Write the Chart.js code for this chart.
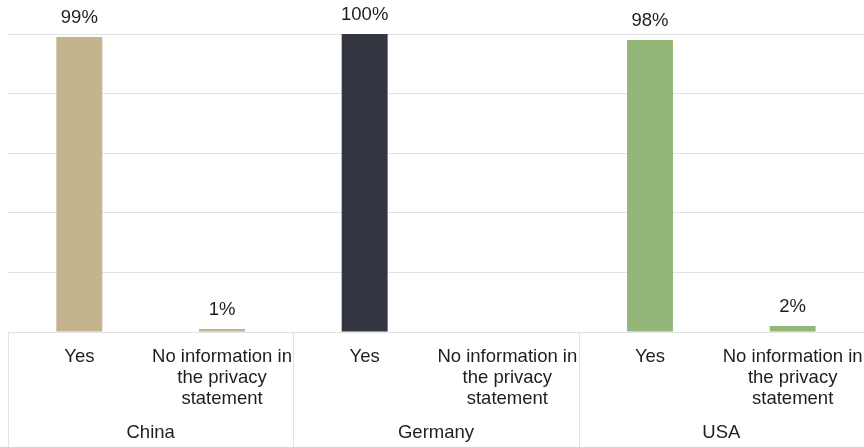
<!DOCTYPE html>
<html>
<head>
<meta charset="utf-8">
<script src="https://cdn.jsdelivr.net/npm/chart.js@4/dist/chart.umd.min.js"></script>
<style>
  html, body { margin: 0; padding: 0; background: #fff; }
  #wrap { width: 864px; height: 447px; }
</style>
</head>
<body>
<div id="wrap"><canvas id="c"></canvas></div>
<script>
// Answer categories repeated per country, with country groups underneath
const answers = ['Yes', ['No information in', 'the privacy', 'statement']];
const countries = ['China', 'Germany', 'USA'];
const categories = ['China Yes', 'China No info', 'Germany Yes', 'Germany No info', 'USA Yes', 'USA No info'];
// Share of responses in percent
const shares = [99, 1, 100, 0, 98, 2];
const countryColors = ['#c4b48e', '#333540', '#93b779'];

const FONT = "'Liberation Sans', Arial, sans-serif";
const FONT_SIZE = 18.5;
const TEXT = '#1e1e1e';
const GRID = '#e2e2e2';

const barColors = shares.map((v, i) => countryColors[Math.floor(i / 2)]);
const tickLabels = categories.map((c, i) => answers[i % 2]);

// Value labels above each bar (skipped for empty bars)
const valueLabels = {
  id: 'valueLabels',
  afterDatasetsDraw(chart) {
    const ctx = chart.ctx;
    const meta = chart.getDatasetMeta(0);
    ctx.save();
    ctx.font = FONT_SIZE + 'px ' + FONT;
    ctx.fillStyle = TEXT;
    ctx.textAlign = 'center';
    ctx.textBaseline = 'middle';
    meta.data.forEach((bar, i) => {
      const v = shares[i];
      if (!v) return;
      ctx.fillText(v + '%', bar.x, bar.y - 19);
    });
    ctx.restore();
  }
};

// Vertical separators between country groups below the plot
const groupSeparators = {
  id: 'groupSeparators',
  afterDraw(chart) {
    const x = chart.scales.x;
    const ctx = chart.ctx;
    const half = (x.getPixelForValue(1) - x.getPixelForValue(0)) / 2;
    ctx.save();
    ctx.strokeStyle = GRID;
    ctx.lineWidth = 1;
    for (let g = 0; g <= countries.length; g++) {
      const idx = g * 2;
      const px = Math.round(x.getPixelForValue(idx) - half) + 0.5;
      ctx.beginPath();
      ctx.moveTo(px, chart.chartArea.bottom);
      ctx.lineTo(px, chart.height);
      ctx.stroke();
    }
    ctx.restore();
  }
};

// Fixed band heights for the two label rows, no side overhang
function fitBand(height) {
  return (scale) => {
    scale.height = height;
    scale.paddingLeft = 0;
    scale.paddingRight = 0;
  };
}

const tickStyle = {
  color: TEXT,
  font: { family: FONT, size: FONT_SIZE, lineHeight: 1.15 },
  padding: 14,
  maxRotation: 0,
  minRotation: 0,
  autoSkip: false
};

new Chart(document.getElementById('c'), {
  type: 'bar',
  data: {
    labels: tickLabels,
    datasets: [{
      data: shares,
      backgroundColor: barColors,
      borderWidth: 0,
      categoryPercentage: 1,
      barPercentage: 0.322
    }]
  },
  options: {
    responsive: true,
    maintainAspectRatio: false,
    animation: false,
    layout: { padding: { left: 8, right: 0, top: 34, bottom: 2 } },
    plugins: { legend: { display: false }, tooltip: { enabled: false } },
    scales: {
      y: {
        min: 0, max: 100,
        ticks: { display: false, stepSize: 20 },
        grid: { color: GRID, drawTicks: false, tickLength: 0 },
        border: { display: false },
        afterFit: (scale) => { scale.width = 0; }
      },
      x: {
        position: 'bottom',
        grid: { display: false, drawTicks: false },
        border: { display: false },
        ticks: tickStyle,
        afterFit: fitBand(78)
      },
      x2: {
        type: 'category',
        position: 'bottom',
        labels: countries,
        offset: true,
        grid: { display: false, drawTicks: false },
        border: { display: false },
        ticks: Object.assign({}, tickStyle, { padding: 12 }),
        afterFit: fitBand(35)
      }
    }
  },
  plugins: [valueLabels, groupSeparators]
});
</script>
</body>
</html>
